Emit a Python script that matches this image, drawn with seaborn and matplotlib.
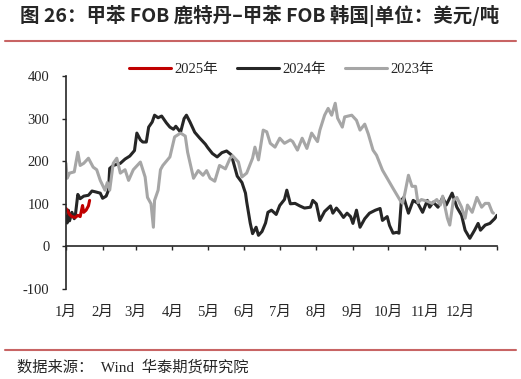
import numpy as np
import pandas as pd
import matplotlib
matplotlib.use("Agg")
import matplotlib.pyplot as plt
from matplotlib.lines import Line2D
import seaborn as sns

# day-of-year (0 = 1 Jan) and spread values
days_2025 = [0, 1, 3, 5, 8, 10, 12, 14, 15, 17, 19, 20]
vals_2025 = [89, 85, 75, 70, 68, 73, 70, 96, 80, 85, 95, 108]

days_2024 = [0, 1, 2, 3, 5, 7, 8, 10, 12, 15, 19, 22, 25, 29, 31, 34, 36, 37, 40, 46,
             50, 54, 58, 60, 63, 65, 68, 70, 73, 75, 78, 81, 85, 88, 91, 93, 97, 100,
             102, 105, 109, 113, 118, 120, 124, 128, 132, 136, 140, 142, 145, 149, 152,
             153, 156, 158, 161, 163, 166, 169, 171, 174, 178, 181, 185, 187, 190, 194,
             198, 202, 207, 209, 212, 215, 219, 224, 226, 229, 232, 235, 238, 241, 243,
             246, 249, 253, 257, 262, 266, 268, 272, 274, 277, 280, 282, 284, 286, 290,
             294, 298, 302, 306, 308, 311, 315, 319, 322, 327, 331, 335, 338, 342, 346,
             349, 351, 355, 359, 363, 365]
vals_2024 = [70, 55, 85, 60, 80, 65, 75, 122, 112, 118, 120, 130, 128, 125, 113, 118, 132, 183, 190, 195,
             205, 212, 225, 266, 250, 245, 245, 280, 292, 308, 302, 306, 290, 280, 275, 282, 268, 300,
             308, 292, 268, 255, 240, 232, 218, 210, 220, 224, 215, 195, 165, 150, 125,
             105, 55, 30, 45, 26, 35, 55, 80, 85, 75, 96, 110, 132, 100, 101,
             95, 90, 92, 108, 100, 61, 82, 95, 78, 90, 80, 68, 78, 70, 54,
             85, 45, 65, 78, 85, 89, 61, 70, 49, 31, 33, 31, 108, 115, 78,
             108, 101, 80, 108, 92, 104, 92, 115, 97, 125, 92, 73, 38, 19, 38,
             54, 38, 50, 54, 65, 73]

days_2023 = [0, 1, 3, 7, 10, 12, 15, 19, 23, 26, 29, 33, 35, 37, 40, 43, 46, 50, 53, 57,
             63, 67, 69, 72, 74, 75, 78, 80, 82, 88, 92, 97, 101, 103, 108, 112, 116, 119,
             122, 126, 130, 135, 139, 141, 146, 149, 153, 158, 160, 163, 167, 170, 173,
             177, 181, 185, 190, 192, 196, 200, 204, 208, 213, 215, 219, 222, 225, 228,
             230, 234, 236, 242, 246, 249, 253, 256, 260, 263, 268, 272, 277, 283, 285,
             287, 290, 293, 296, 298, 301, 306, 310, 314, 317, 319, 323, 325, 328, 331,
             335, 338, 340, 344, 348, 352, 355, 358, 361, 362]
vals_2023 = [195, 160, 172, 175, 221, 190, 195, 207, 186, 180, 155, 132, 150, 132, 195, 207, 172, 180, 155, 180,
             198, 163, 115, 100, 45, 108, 132, 180, 190, 210, 257, 266, 259, 221, 160, 178, 167, 178,
             160, 153, 190, 182, 207, 213, 198, 163, 172, 207, 233, 203, 273, 269, 242,
             233, 254, 242, 250, 246, 226, 254, 230, 266, 246, 273, 308, 324, 308, 336,
             301, 280, 304, 308, 296, 273, 287, 264, 226, 214, 179, 160, 136, 108, 101,
             125, 167, 141, 141, 103, 110, 106, 101, 110, 97, 118, 66, 50, 108, 115,
             92, 66, 97, 80, 115, 92, 101, 101, 80, 78]

month_starts = [0, 31, 59, 90, 120, 151, 181, 212, 243, 273, 304, 334, 365]
month_labels = ["1月", "2月", "3月", "4月", "5月", "6月", "7月", "8月", "9月",
                "10月", "11月", "12月", ""]
y_ticks = [-100, 0, 100, 200, 300, 400]

sns.set_style("ticks")
plt.rcParams["font.family"] = ["Liberation Serif", "Noto Sans CJK SC"]
plt.rcParams["axes.unicode_minus"] = False

fig = plt.figure(figsize=(5.21, 3.79), dpi=100)
ax = fig.add_axes([66 / 521, 1 - 289 / 379, 431 / 521, 213 / 379])

df24 = pd.DataFrame({"day": days_2024, "val": vals_2024})
df23 = pd.DataFrame({"day": days_2023, "val": vals_2023})
df25 = pd.DataFrame({"day": days_2025, "val": vals_2025})

sns.lineplot(data=df24, x="day", y="val", ax=ax, color="#262626", linewidth=2.2, label="2024年")
sns.lineplot(data=df23, x="day", y="val", ax=ax, color="#A6A6A6", linewidth=2.2, label="2023年")
sns.lineplot(data=df25, x="day", y="val", ax=ax, color="#C00000", linewidth=2.2, label="2025年")

ax.set_xlim(0, 365)
ax.set_ylim(-100, 400)
ax.set_xlabel("")
ax.set_ylabel("")
ax.set_yticks(y_ticks)
ax.set_xticks(month_starts)
ax.set_xticklabels(month_labels)

for s in ["top", "right"]:
    ax.spines[s].set_visible(False)
ax.spines["bottom"].set_position(("data", 0))
ax.spines["left"].set_linewidth(1.2)
ax.spines["bottom"].set_linewidth(1.2)
ax.tick_params(axis="y", direction="out", length=3, width=1, labelsize=10.5, pad=9)
ax.tick_params(axis="x", direction="out", length=3, width=1, labelsize=10.5, pad=40)

h, l = ax.get_legend_handles_labels()
order = [l.index("2025年"), l.index("2024年"), l.index("2023年")]
ax.legend([h[i] for i in order], [l[i] for i in order], ncol=3, frameon=False,
          loc="center", bbox_to_anchor=(0.5, 1.03), fontsize=10.5,
          handlelength=2.9, handletextpad=0.2, columnspacing=1.3)

fig.text(20 / 521, 1 - 16 / 379, "图 26：甲苯 FOB 鹿特丹–甲苯 FOB 韩国|单位：美元/吨",
         family=["Noto Sans CJK SC"], fontweight="bold", fontsize=14, va="center", ha="left")
fig.add_artist(Line2D([5 / 521, 516 / 521], [1 - 41 / 379] * 2, color="#C86464", lw=1.5))
fig.add_artist(Line2D([5 / 521, 516 / 521], [1 - 350 / 379] * 2, color="#C86464", lw=1.5))
fig.text(17 / 521, 1 - 367 / 379, "数据来源：  Wind  华泰期货研究院",
         fontsize=11, va="center", ha="left")

fig.savefig("out.png", dpi=100)
